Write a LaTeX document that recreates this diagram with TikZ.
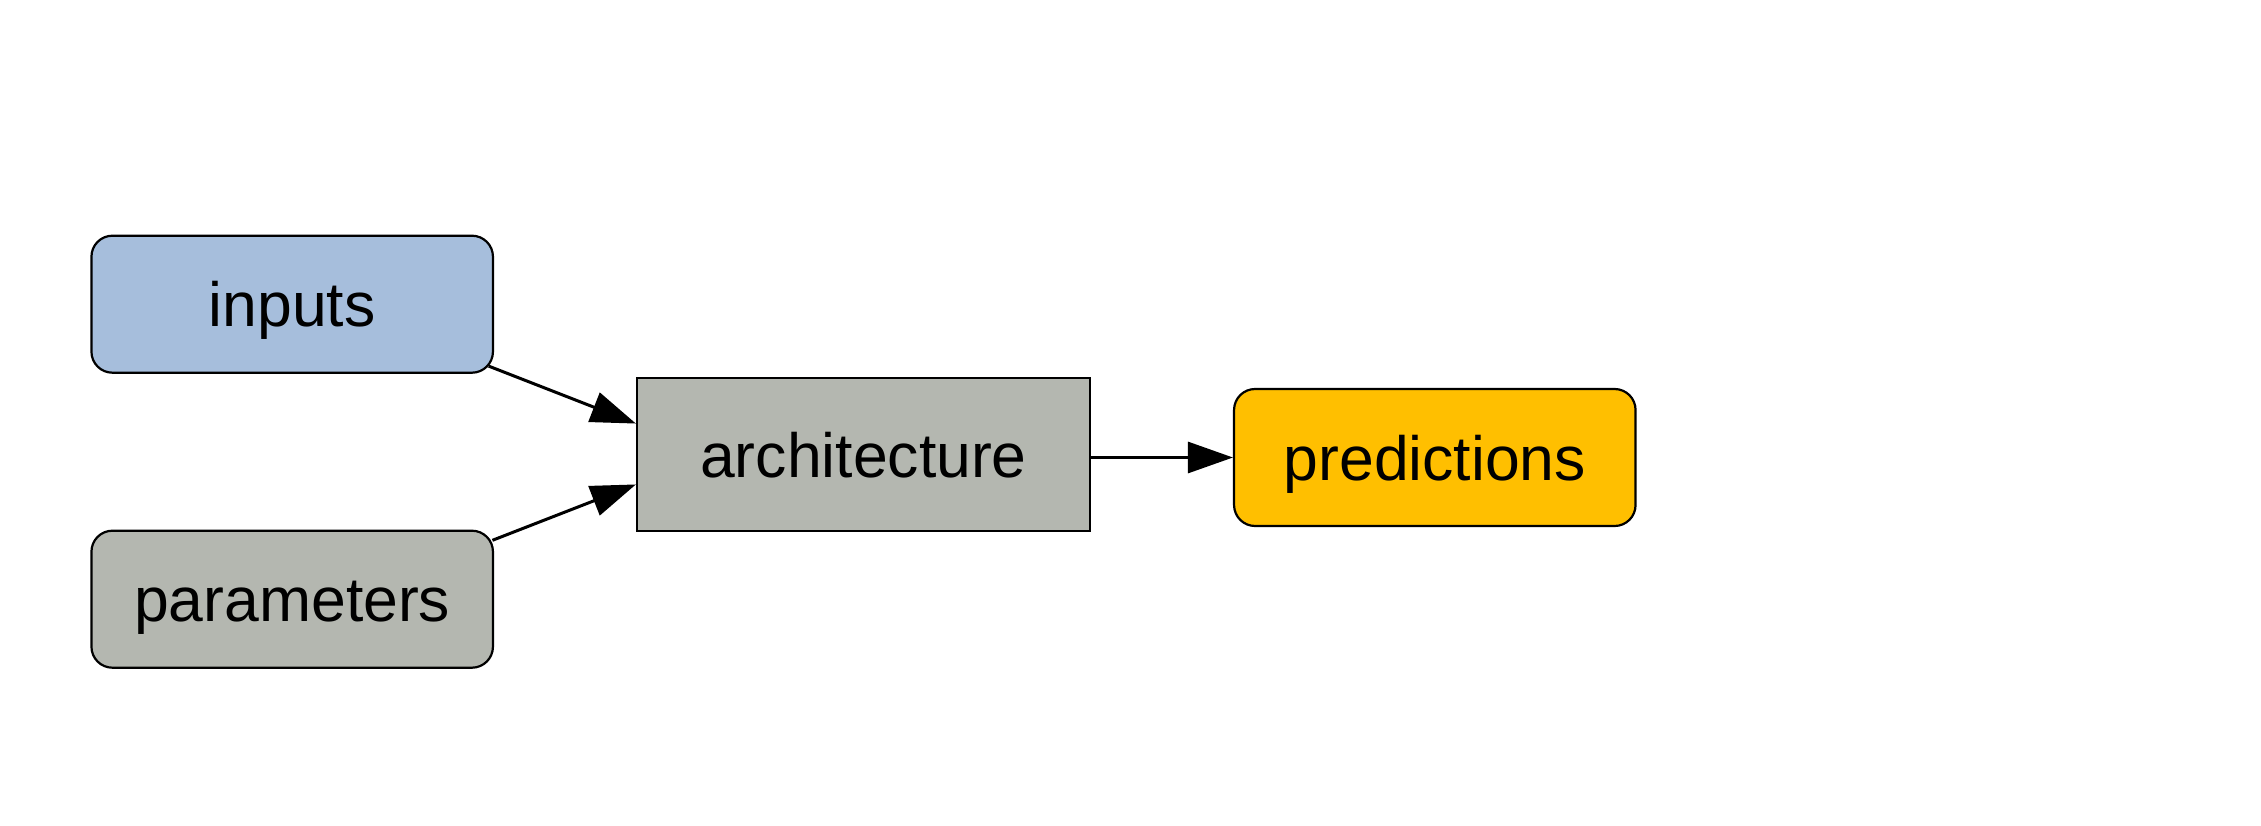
\documentclass[tikz,border=0pt]{standalone}
\usepackage{fontspec}
\setmainfont{Liberation Sans}
\usetikzlibrary{arrows.meta,calc}
\definecolor{inblue}{RGB}{166,190,220}
\definecolor{boxgray}{RGB}{180,183,176}
\definecolor{predorange}{RGB}{255,191,0}
\tikzset{
  basebox/.style={draw=black, line width=2.2pt, inner sep=0pt, text height=45pt, text depth=0pt,
    font=\fontsize{62.5}{70}\selectfont},
  roundbox/.style={basebox, rounded corners=21pt, minimum width=401.5pt, minimum height=137pt},
  archbox/.style={basebox, minimum width=453pt, minimum height=152.7pt},
  conn/.style={draw=black, line width=3pt, -{Triangle[length=45pt,width=31pt]}}
}
\begin{document}
\begin{tikzpicture}[x=1pt,y=-1pt]
\useasboundingbox (0,0) rectangle (2261,826);
\node[roundbox, fill=inblue] (inputs) at (292.2,304.2) {inputs};
\node[roundbox, fill=boxgray] (params) at (292.2,599.2) {parameters};
\node[archbox, fill=boxgray] (arch) at (863.5,454.7) {architecture};
\node[roundbox, fill=predorange] (pred) at (1434.8,457.5) {predictions};
\coordinate (sa) at ($(inputs.south east)+(-5.4,-7.7)$);
\coordinate (sb) at ($(params.north east)+(-1.6,10.7)$);
\coordinate (ta) at ($(arch.north west)!0.299!(arch.south west)$);
\coordinate (tb) at ($(arch.north west)!0.692!(arch.south west)$);
\coordinate (sc) at (arch.east |- pred.west);
\draw[conn] (sa) -- (ta);
\draw[conn] (sb) -- (tb);
\draw[conn] (sc) -- (pred.west);
\end{tikzpicture}
\end{document}
